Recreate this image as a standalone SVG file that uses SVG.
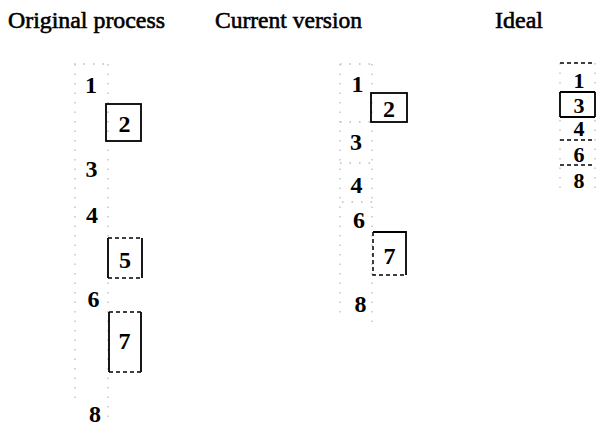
<svg xmlns="http://www.w3.org/2000/svg" width="616" height="426" viewBox="0 0 616 426">
<style>
.t{font-family:"Liberation Serif",serif;font-size:24px;fill:#000;stroke:#000;stroke-width:0.6}
.n{font-family:"Liberation Serif",serif;font-weight:bold;font-size:24px;text-anchor:middle;fill:#000}
.s{font-size:22px}
.box{fill:none;stroke:#000;stroke-width:1.8}
.dash{fill:none;stroke:#000;stroke-width:1.5;stroke-dasharray:4 3}
.dot{fill:none;stroke:#bbb;stroke-width:1.3;stroke-dasharray:1.5 8}
</style>
<rect width="616" height="426" fill="#fff"/>
<g id="titles">
<text class="t" x="8" y="28" textLength="157" lengthAdjust="spacingAndGlyphs">Original process</text>
<text class="t" x="215" y="28" textLength="147" lengthAdjust="spacingAndGlyphs">Current version</text>
<text class="t" x="495" y="28" textLength="48" lengthAdjust="spacingAndGlyphs">Ideal</text>
</g>
<g id="connectors">
<path class="dot" d="M74 64H107M108 64V425M75 64V400"/>
<path class="dot" d="M340 64H372M372 64V330M340 64V320M340 122H371M340 163H373M342 202H373"/>
<path class="dot" d="M560 63V195M595 63V195"/>
</g>
<g id="original">
<g id="o1"><text class="n" x="91" y="93">1</text></g>
<g id="o2"><rect class="box" x="106" y="104" width="35" height="37"/><text class="n" x="124.5" y="132">2</text></g>
<g id="o3"><text class="n" x="91.5" y="177">3</text></g>
<g id="o4"><text class="n" x="92" y="223">4</text></g>
<g id="o5"><path class="box" d="M108 238V278M142 238V278"/><path class="dash" d="M108 238H142M108 278H142"/><text class="n" x="125" y="268">5</text></g>
<g id="o6"><text class="n" x="93.5" y="307">6</text></g>
<g id="o7"><path class="box" d="M109 312V372M141 312V372"/><path class="dash" d="M109 312H141M109 372H141"/><text class="n" x="124.5" y="349">7</text></g>
<g id="o8"><text class="n" x="95" y="422">8</text></g>
</g>
<g id="current">
<g id="c1"><text class="n" x="357.5" y="92">1</text></g>
<g id="c2"><rect class="box" x="371" y="93" width="36" height="29"/><text class="n" x="389" y="117">2</text></g>
<g id="c3"><text class="n" x="356" y="150">3</text></g>
<g id="c4"><text class="n" x="356.5" y="193">4</text></g>
<g id="c6"><text class="n" x="359" y="228">6</text></g>
<g id="c7"><path class="box" d="M373 232H406V275"/><path class="dash" d="M373 232V275H406"/><text class="n" x="389.5" y="264">7</text></g>
<g id="c8"><text class="n" x="360.5" y="312">8</text></g>
</g>
<g id="ideal">
<path class="dash" d="M560 63H595M560 140H595M560 165H595"/>
<path class="box" d="M560 92H595M560 117H595M560 92V117M595 92V117"/>
<g id="i1"><text class="n s" x="579" y="88">1</text></g>
<g id="i3"><text class="n s" x="579" y="113">3</text></g>
<g id="i4"><text class="n s" x="579" y="136">4</text></g>
<g id="i6"><text class="n s" x="579" y="162">6</text></g>
<g id="i8"><text class="n s" x="579" y="188">8</text></g>
</g>
</svg>
